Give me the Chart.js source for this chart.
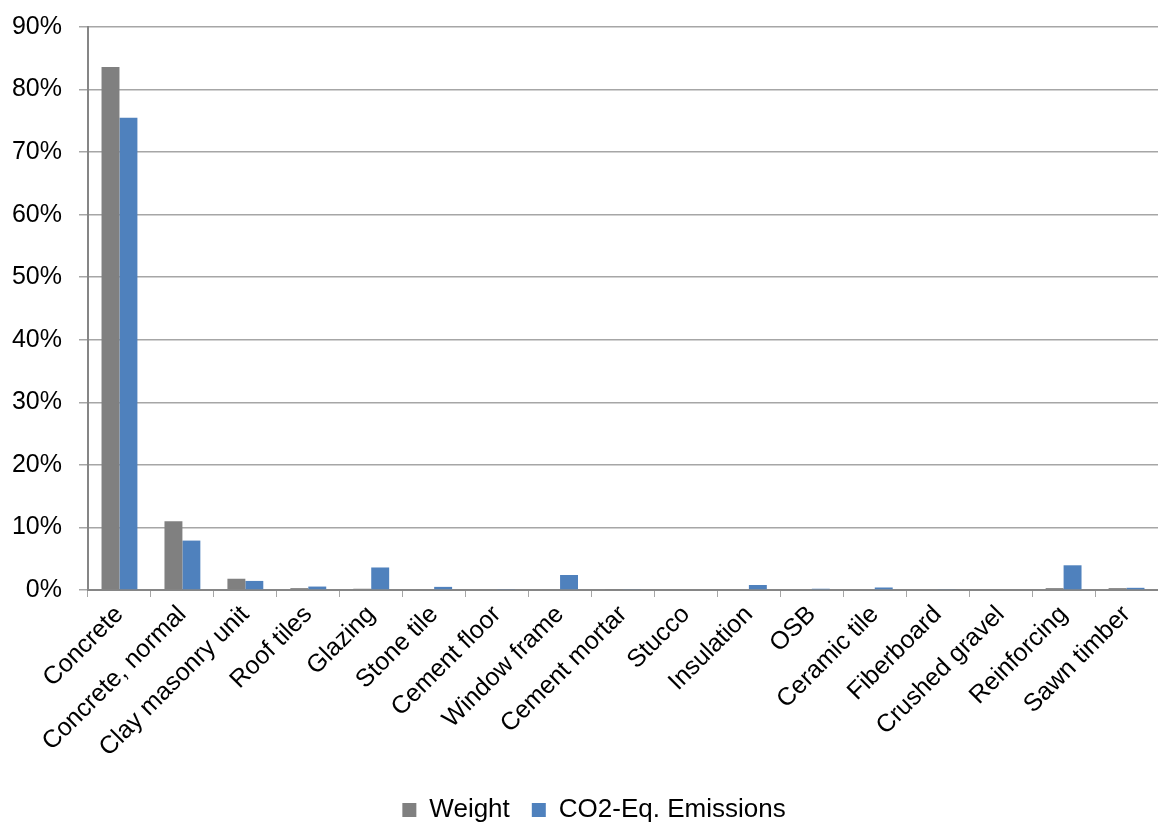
<!DOCTYPE html>
<html>
<head>
<meta charset="utf-8">
<script src="https://cdn.jsdelivr.net/npm/chart.js@4"></script>
<style>
  html, body { margin: 0; padding: 0; background: #fff; }
  #wrap { width: 1158px; height: 822px; }
</style>
</head>
<body>
<div id="wrap"><canvas id="materialsChart" width="1158" height="822"></canvas></div>
<script>
// Share of each building material (percent)
const materials = [
  "Concrete", "Concrete, normal", "Clay masonry unit", "Roof tiles", "Glazing",
  "Stone tile", "Cement floor", "Window frame", "Cement mortar", "Stucco",
  "Insulation", "OSB", "Ceramic tile", "Fiberboard", "Crushed gravel",
  "Reinforcing", "Sawn timber"
];
const weightShare = [83.6, 11.0, 1.8, 0.3, 0.2, 0.1, 0.1, 0.1, 0.05, 0, 0, 0, 0, 0, 0, 0.3, 0.3];
const co2Share = [75.5, 7.9, 1.45, 0.55, 3.6, 0.5, 0.15, 2.4, 0.1, 0, 0.8, 0.2, 0.4, 0.1, 0, 3.95, 0.35];
const yTicks = [0, 10, 20, 30, 40, 50, 60, 70, 80, 90];

Chart.defaults.font.family = "'Liberation Sans', Arial, sans-serif";
Chart.defaults.font.size = 25;
Chart.defaults.color = "#000";

// nudge the legend a little to the right of the canvas centre
const legendShift = {
  id: "legendShift",
  afterLayout(chart) {
    chart.legend.left += 15;
    chart.legend.right += 15;
  },
};

var ctx = document.getElementById("materialsChart").getContext("2d");
var materialsChart = new Chart(ctx, {
  type: "bar",
  data: {
    labels: materials,
    datasets: [
      {
        label: "Weight",
        data: weightShare,
        backgroundColor: "#808080",
        borderWidth: 0,
      },
      {
        label: "CO2-Eq. Emissions",
        data: co2Share,
        backgroundColor: "#4f81bd",
        borderWidth: 0,
      },
    ],
  },
  plugins: [legendShift],
  options: {
    responsive: false,
    animation: false,
    layout: {
      padding: { top: 27, right: 0, bottom: -11, left: 0 },
    },
    datasets: {
      bar: {
        barPercentage: 1,
        categoryPercentage: 0.57,
      },
    },
    plugins: {
      legend: {
        position: "bottom",
        labels: {
          boxWidth: 14,
          boxHeight: 14,
          padding: 22,
          font: { size: 26 },
        },
      },
      tooltip: { enabled: false },
    },
    scales: {
      x: {
        offset: true,
        grid: {
          offset: true,
          drawOnChartArea: false,
          drawTicks: true,
          tickLength: 7,
          color: "#a6a6a6",
        },
        border: { color: "#868686", width: 2 },
        ticks: {
          autoSkip: false,
          minRotation: 45,
          maxRotation: 45,
          padding: 3,
        },
        afterFit: function (scale) {
          scale.height = 185;
        },
      },
      y: {
        min: 0,
        max: 90,
        afterBuildTicks: function (scale) {
          scale.ticks = yTicks.map((v) => ({ value: v }));
        },
        grid: {
          color: "#a6a6a6",
          lineWidth: 1.5,
          tickLength: 9,
        },
        border: { color: "#868686", width: 2 },
        ticks: {
          padding: 17,
          callback: (v) => v + "%",
        },
        afterFit: function (scale) {
          scale.width = 88;
          scale.paddingTop = 0;
          scale.paddingBottom = 0;
        },
      },
    },
  },
});
</script>
</body>
</html>
